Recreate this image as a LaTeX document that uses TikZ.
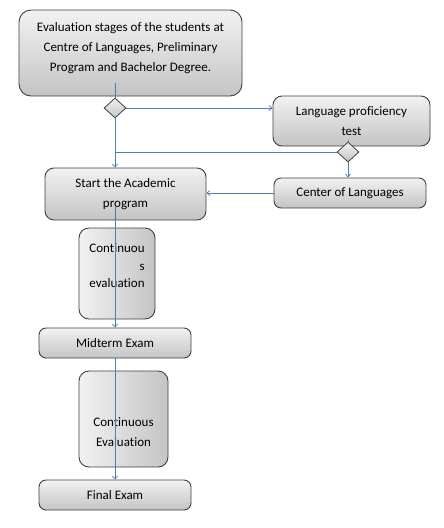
\documentclass[tikz,border=0pt]{standalone}
\usepackage{fontspec}
\setmainfont{Carlito}[Ligatures=NoCommon]
\usepackage{tikz}
\usetikzlibrary{positioning,arrows.meta,shapes.geometric,calc}
\definecolor{linkblue}{RGB}{74,126,187}
\definecolor{boxlight}{RGB}{242,242,242}
\definecolor{boxdark}{RGB}{196,196,196}
\tikzset{
  flowarrow/.style={-{Straight Barb[length=3pt,width=5pt]}, draw=linkblue, line width=0.7pt},
  flowline/.style={draw=linkblue, line width=0.7pt},
  stagebox/.style={draw=black!75, line width=0.9pt, rounded corners=7pt, top color=boxlight, bottom color=boxdark, align=center, inner sep=2pt},
  evalbox/.style={draw=black!75, line width=0.9pt, rounded corners=10pt, left color=boxlight, right color=boxdark, inner sep=2pt},
  gatenode/.style={draw=black!75, line width=0.8pt, diamond, top color=boxlight, bottom color=boxdark, minimum width=22pt, minimum height=20pt, inner sep=0pt}
}

\begin{document}
\begin{tikzpicture}[x=1pt, y=-1pt, every node/.style={font=\fontsize{13}{20}\selectfont}]
      \useasboundingbox (0,0) rectangle (444,528);
      \node[stagebox, minimum width=223pt, minimum height=86pt, rounded corners=12pt, text depth=13pt] (top) at (130.5,53) {Evaluation stages of the students at\\Centre of Languages, Preliminary\\Program and Bachelor Degree.};
      \node[gatenode] (gate1) at (115,108) {};
      \node[stagebox, minimum width=157pt, minimum height=50pt, rounded corners=9pt] (lang) at (351.5,121) {Language proficiency\\test};
      \node[gatenode] (gate2) at (348,152) {};
      \node[stagebox, minimum width=161pt, minimum height=52pt, rounded corners=9pt] (start) at (125.5,194) {Start the Academic\\program};
      \node[stagebox, minimum width=152pt, minimum height=30pt] (col) at (350,193) {Center of Languages};
      \node[evalbox, minimum width=76pt, minimum height=91pt, align=right, font=\fontsize{13}{17.5}\selectfont, text depth=15pt] (cont1) at (117,273.5) {Continuou\\s\\evaluation};
      \node[stagebox, minimum width=152pt, minimum height=30pt] (mid) at (115,343) {Midterm Exam};
      \node[evalbox, minimum width=89pt, minimum height=96pt, align=center, text height=56pt] (cont2) at (123.5,419) {Continuous\\Evaluation};
      \node[stagebox, minimum width=152pt, minimum height=30pt] (final) at (115,495) {Final Exam};
      % connectors
      \draw[flowline] ([yshift=13pt]top.south -| gate1.north) -- (gate1.north);
      \draw[flowarrow] (gate1.east) -- (lang.west |- gate1.east);
      \draw[flowarrow] (gate1.south) -- (gate1.south |- start.north);
      \draw[flowline] ([yshift=6pt]lang.south -| gate2.north) -- (gate2.north);
      \draw[flowline] (gate2.west) -- (gate2.west -| gate1.south);
      \draw[flowarrow] (gate2.south) -- (gate2.south |- col.north);
      \draw[flowarrow] (col.west) -- (start.east |- col.west);
      \draw[flowarrow] ([yshift=13pt]start.south -| mid.north) -- (mid.north);
      \draw[flowarrow] (mid.south) -- (final.north);
    \end{tikzpicture}
\end{document}
